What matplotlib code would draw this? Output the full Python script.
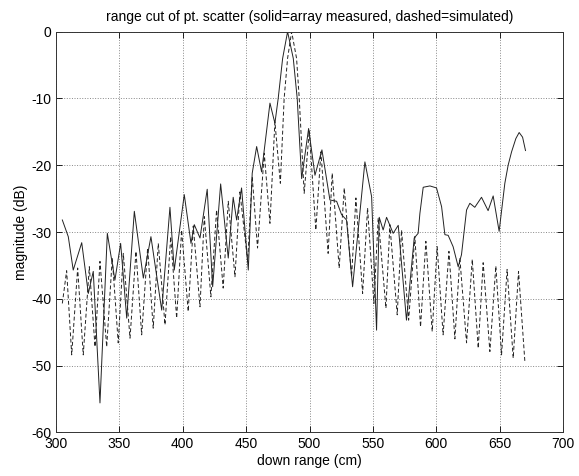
import matplotlib
matplotlib.use("Agg")
import matplotlib.pyplot as plt

plt.rcParams['font.family'] = ['Liberation Sans', 'DejaVu Sans']
plt.rcParams['axes.unicode_minus'] = False

# measured (solid) - peaks, nulls and shoulders
meas_x = [305.0, 309.7, 313.6, 320.3, 325.5, 329.4, 334.7, 340.5, 346.5, 351.0,
          355.8, 361.8, 368.9, 374.9, 383.4, 389.9, 393.3, 401.2, 406.5, 409.1,
          413.6, 419.3, 423.6, 429.9, 435.9, 439.8, 442.5, 446.4, 451.7, 454.8,
          458.3, 462.2, 468.8, 472.7, 475.3, 478.8, 482.7, 487.2, 490.3, 493.8,
          499.3, 504.3, 509.8, 516.1, 521.4, 525.3, 529.2, 534.0, 543.7, 549.0,
          552.9, 555.0, 558.1, 560.8, 566.0, 570.0, 576.5, 582.6, 585.7, 587.1,
          589.7, 595.0, 600.2, 604.2, 606.8, 609.4, 613.3, 617.3, 619.9, 623.9,
          626.5, 630.4, 635.7, 640.9, 644.9, 649.6, 654.1, 656.7, 659.4, 662.8,
          665.4, 668.1, 670.4]
meas_db = [-28.2, -30.7, -35.7, -31.6, -39.2, -35.9, -55.6, -30.2, -37.2, -31.7,
           -42.9, -26.9, -36.9, -30.7, -41.7, -26.3, -35.7, -24.4, -31.7, -28.9,
           -30.9, -23.6, -38.2, -22.8, -33.9, -24.8, -28.2, -23.4, -35.7, -21.2,
           -17.2, -21.0, -10.7, -13.7, -10.0, -4.0, 0.0, -4.0, -10.0, -22.0,
           -14.5, -21.5, -17.7, -25.2, -25.4, -27.4, -28.2, -38.2, -19.5, -24.7,
           -44.7, -27.8, -29.7, -27.8, -30.2, -29.0, -43.2, -30.9, -30.2, -27.2,
           -23.3, -23.1, -23.4, -26.2, -30.4, -30.5, -32.2, -35.2, -33.4, -26.7,
           -25.7, -26.3, -24.8, -26.8, -24.6, -29.9, -22.7, -20.0, -18.0, -16.0,
           -15.1, -15.8, -17.8]

# simulated (dashed)
sim_x = [305.0, 308.4, 312.4, 317.1, 321.5, 326.3, 330.8, 334.7, 340.0, 344.4,
         349.1, 353.1, 358.4, 363.1, 367.6, 372.3, 376.7, 380.7, 386.0, 390.5,
         395.2, 399.1, 404.3, 408.3, 413.6, 417.0, 422.2, 426.7, 431.9, 435.9,
         441.2, 445.1, 451.2, 454.8, 459.0, 464.3, 468.8, 472.7, 477.0, 480.0,
         482.7, 485.9, 489.8, 491.9, 495.8, 499.8, 505.0, 509.0, 514.7, 517.9,
         523.4, 527.4, 533.2, 536.6, 541.9, 545.8, 550.8, 554.2, 560.3, 563.4,
         569.2, 572.6, 578.2, 583.1, 587.6, 591.8, 596.8, 600.7, 605.4, 610.0,
         614.7, 618.6, 623.9, 628.4, 633.1, 637.0, 642.3, 647.0, 651.5, 655.9,
         660.7, 664.9, 669.9]
sim_db = [-40.7, -35.8, -48.4, -35.4, -48.4, -35.2, -47.2, -34.4, -47.2, -33.9,
          -46.6, -33.2, -45.9, -32.9, -45.4, -32.4, -44.4, -31.7, -43.9, -30.7,
          -42.9, -29.7, -41.9, -29.1, -41.2, -27.7, -39.7, -26.7, -38.4, -25.4,
          -36.7, -24.0, -34.4, -21.7, -32.4, -18.2, -28.7, -13.5, -22.7, -10.0,
          -4.0, 0.0, -4.0, -10.0, -24.2, -14.8, -29.7, -18.0, -33.2, -21.2,
          -35.4, -23.4, -36.7, -24.9, -39.2, -26.4, -40.7, -27.9, -41.4, -28.9,
          -42.4, -29.7, -43.2, -30.7, -44.2, -31.4, -44.9, -32.2, -45.4, -32.9,
          -46.0, -33.9, -46.6, -34.1, -47.4, -34.6, -47.9, -35.1, -48.4, -35.6,
          -48.9, -35.9, -49.4]

fig = plt.figure(figsize=(5.79, 4.76), dpi=100)
ax = fig.add_axes([0.0967, 0.0918, 0.8757, 0.8416])

ax.plot(meas_x, meas_db, color='#222222', lw=0.7, ls='-')
ax.plot(sim_x, sim_db, color='#222222', lw=0.7, ls=(0, (4, 2.5)))

ax.set_xlim(300, 700)
ax.set_ylim(-60, 0)
ax.set_xticks(range(300, 701, 50))
ax.set_yticks(range(-60, 1, 10))
ax.grid(True, color='#888888', ls=':', lw=0.7)
ax.tick_params(direction='in', top=True, right=True, labelsize=10, length=4, width=0.6)
for s in ax.spines.values():
    s.set_linewidth(0.7)
    s.set_color('#333333')

ax.set_title('range cut of pt. scatter (solid=array measured, dashed=simulated)', fontsize=10, pad=8)
ax.set_xlabel('down range (cm)', fontsize=10, labelpad=2)
ax.set_ylabel('magnitude (dB)', fontsize=10, labelpad=2)

fig.savefig('out.png', dpi=100)
